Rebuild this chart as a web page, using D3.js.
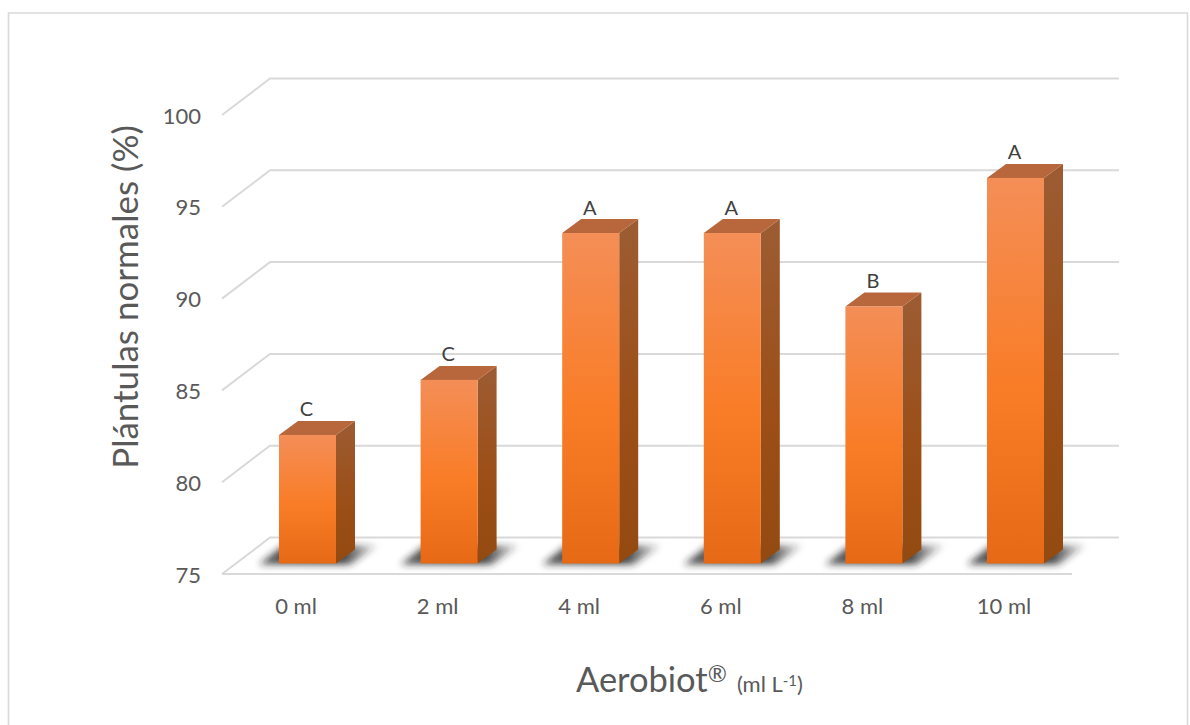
<!DOCTYPE html>
<html><head><meta charset="utf-8">
<script src="https://cdn.jsdelivr.net/npm/d3@7"></script>
<style>html,body{margin:0;padding:0;background:#fff;overflow:hidden}svg{display:block}text{font-family:Lato,"Open Sans",sans-serif}</style>
</head><body><svg id="c" width="1190" height="725"></svg>
<script>
const categories=["0 ml","2 ml","4 ml","6 ml","8 ml","10 ml"];
const values=[82,85,93,93,89,96];
const letters=["C","C","A","A","B","A"];
const yTicks=[75,80,85,90,95,100];
const svg=d3.select("#c");
const defs=svg.append("defs");
function grad(id,stops){const g=defs.append("linearGradient").attr("id",id).attr("x1",0).attr("y1",0).attr("x2",0).attr("y2",1);
 stops.forEach(s=>g.append("stop").attr("offset",s[0]).attr("stop-color",s[1]));}
grad("front",[[0,"#f48e57"],[0.55,"#f97c26"],[1,"#e66a16"]]);
grad("side",[[0,"#9c5c33"],[0.55,"#9c4f18"],[1,"#934a10"]]);
const sg=defs.append("linearGradient").attr("id","shade").attr("x1",0).attr("y1",0).attr("x2",1).attr("y2",0);
[[0,0.75],[0.7,0.85],[1,0.1]].forEach(s=>sg.append("stop").attr("offset",s[0]).attr("stop-color","#222").attr("stop-opacity",s[1]));
const blur=defs.append("filter").attr("id","sh").attr("x","-30%").attr("y","-60%").attr("width","160%").attr("height","220%");
blur.append("feGaussianBlur").attr("stdDeviation",3.5);

svg.append("path").attr("d","M8.5,740V13H1187.5V740").attr("fill","none").attr("stroke","#d9d9d9").attr("stroke-width",1.6);

const dx=48,dy=-37,depthX=19,depthY=-14;
const yFront=d3.scaleLinear().domain([75,100]).range([574,115]);
const yBar=d3.scaleLinear().domain([75,100]).range([563.5,104.5]);
const x0=d3.scalePoint().domain(categories).range([307.5,1015.5]);
const barW=57;

// walls / gridlines
const grid=svg.append("g").attr("fill","none").attr("stroke","#d9d9d9").attr("stroke-width",2);
yTicks.forEach(t=>{
  const y=yFront(t);
  grid.append("path").attr("d",d3.line()([[222,y],[222+dx,y+dy+0.5],[1119,y+dy+0.5]]));
});
grid.append("path").attr("d",d3.line()([[222,574],[1072,574]]));

// tick labels
svg.append("g").selectAll("text").data(yTicks).join("text")
 .attr("x",201).attr("y",d=>yFront(d)+8.5).attr("text-anchor","end")
 .attr("font-size",22).attr("fill","#595959").text(d=>d);
svg.append("g").selectAll("text").data(categories).join("text")
 .attr("x",d=>x0(d)-11.5).attr("y",614).attr("text-anchor","middle")
 .attr("font-size",22).attr("fill","#595959").text(d=>d);

// bars
const g=svg.append("g");
categories.forEach((c,i)=>{
  const v=values[i],l=x0(c)-barW/2,r=l+barW,b=yBar(75),t=yBar(v);
  g.append("path").attr("d",d3.line()([[l-20,b+1],[r+14,b+1],[r+42,b-18],[l+4,b-18]])).attr("fill","url(#shade)").attr("filter","url(#sh)");
  g.append("path").attr("d",d3.line()([[r,t],[r+depthX,t+depthY],[r+depthX,b+depthY],[r,b]])+"Z").attr("fill","url(#side)");
  g.append("path").attr("d",d3.line()([[l,t],[l+depthX,t+depthY],[r+depthX,t+depthY],[r,t]])+"Z").attr("fill","#b8673c");
  g.append("rect").attr("x",l).attr("y",t).attr("width",barW).attr("height",b-t).attr("fill","url(#front)");
  g.append("text").attr("x",l+27.5).attr("y",t+depthY-4.5).attr("text-anchor","middle").attr("font-size",20).attr("fill","#404040").text(letters[i]);
});

// axis titles
svg.append("text").attr("transform","translate(138,297) rotate(-90)").attr("text-anchor","middle")
 .attr("font-size",35).attr("fill","#595959").text("Plántulas normales (%)");
const xt=svg.append("text").attr("x",576).attr("y",692).attr("fill","#595959");
xt.append("tspan").attr("font-size",34.5).text("Aerobiot");
xt.append("tspan").attr("font-size",23).attr("dy",-10).text("®");
xt.append("tspan").attr("font-size",22).attr("dy",10).attr("dx",10).text("(ml L");
xt.append("tspan").attr("font-size",15).attr("dy",-6).text("-1");
xt.append("tspan").attr("font-size",22).attr("dy",6).text(")");
</script></body></html>
